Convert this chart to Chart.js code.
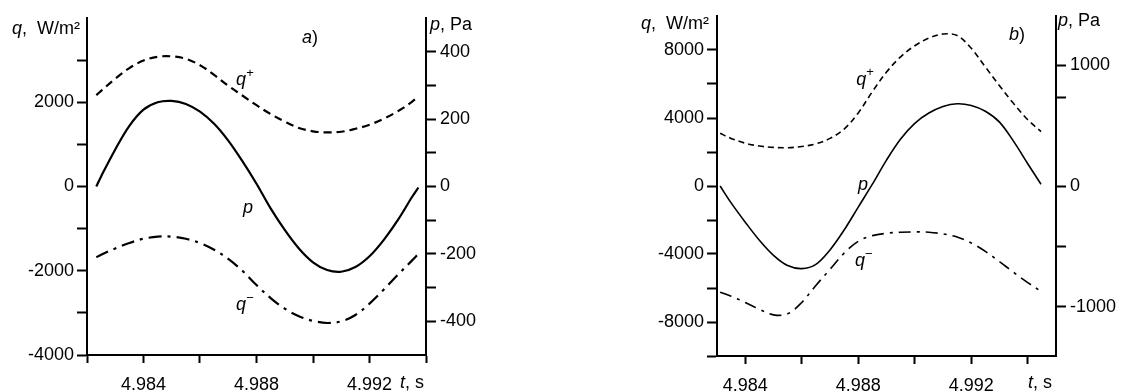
<!DOCTYPE html>
<html>
<head>
<meta charset="utf-8">
<script src="https://cdn.jsdelivr.net/npm/chart.js@4.4.1/dist/chart.umd.min.js"></script>
<style>
  html, body { margin: 0; padding: 0; background: #fff; }
  #wrap { position: relative; width: 1124px; height: 392px; overflow: hidden; }
  canvas { position: absolute; top: 0; }
  #chartA { left: 0; }
  #chartB { left: 560px; }
</style>
</head>
<body>
<div id="wrap">
  <canvas id="chartA" width="540" height="392"></canvas>
  <canvas id="chartB" width="564" height="392"></canvas>
</div>
<script>
// panel a) time, s
const tA = [4.98233, 4.9825, 4.9830, 4.9835, 4.9840, 4.9845, 4.9850, 4.9855, 4.9860, 4.9865, 4.9870, 4.9875, 4.9880,
	4.9885, 4.9890, 4.9895, 4.9900, 4.9905, 4.9910, 4.9915, 4.9920, 4.9925, 4.9930, 4.9935, 4.99373];
// p, Pa (right axis)
const pA = [0, 30, 110, 180, 228, 250, 254, 245, 222, 186, 136, 75, 8,
	-65, -129, -184, -225, -248, -253, -239, -207, -159, -100, -32, -3];
// q+, W/m2 (left axis)
const qPlusA = [2170, 2270, 2560, 2810, 2990, 3080, 3090, 3030, 2880, 2650, 2390, 2160, 1930,
	1720, 1540, 1390, 1310, 1285, 1300, 1370, 1465, 1610, 1785, 2010, 2140];
// q-, W/m2 (left axis)
const qMinusA = [-1680, -1620, -1470, -1340, -1240, -1190, -1190, -1240, -1340, -1500, -1720, -2000, -2340,
	-2650, -2900, -3080, -3190, -3240, -3200, -3050, -2780, -2450, -2100, -1760, -1600];

// panel b)
const tB = [4.98311, 4.9835, 4.9840, 4.9845, 4.9850, 4.9855, 4.9860, 4.9865, 4.9870, 4.9875, 4.9880, 4.9885,
	4.9890, 4.9895, 4.9900, 4.9905, 4.9910, 4.9915, 4.9920, 4.9925, 4.9930, 4.9935, 4.9940, 4.99447];
const pB = [0, -140, -300, -450, -575, -660, -685, -650, -530, -365, -175, 15,
	215, 390, 520, 605, 660, 682, 668, 620, 530, 370, 185, 15];
const qPlusB = [3100, 2800, 2520, 2350, 2270, 2250, 2320, 2480, 2800, 3350, 4300, 5550,
	6700, 7600, 8250, 8700, 8940, 8850, 8100, 7000, 5900, 4850, 3900, 3200];
const qMinusB = [-6250, -6480, -6850, -7250, -7580, -7520, -6850, -5850, -4900, -3950, -3250, -2920,
	-2780, -2720, -2700, -2720, -2820, -3000, -3350, -3850, -4450, -5080, -5680, -6200];

// axis ticks and the ticks that carry a label
const xTicksA = [4.982, 4.984, 4.986, 4.988, 4.990, 4.992, 4.994];
const xTicksB = [4.984, 4.986, 4.988, 4.990, 4.992, 4.994];
const xLabels = [4.984, 4.988, 4.992];
const qTicksA = [-4000, -3000, -2000, -1000, 0, 1000, 2000, 3000];
const qLabelsA = [-4000, -2000, 0, 2000];
const pTicksA = [-400, -300, -200, -100, 0, 100, 200, 300, 400];
const pLabelsA = [-400, -200, 0, 200, 400];
const qTicksB = [-10000, -8000, -6000, -4000, -2000, 0, 2000, 4000, 6000, 8000];
const qLabelsB = [-8000, -4000, 0, 4000, 8000];
const pTicksB = [-1000, -500, 0, 730, 1000];
const pLabelsB = [-1000, 0, 1000];

const FONT = '"Liberation Sans", Arial, sans-serif';
Chart.defaults.font.family = FONT;
Chart.defaults.font.size = 18;
Chart.defaults.color = '#000';

function pts(ts, vs) {
	return ts.map((t, i) => ({ x: t, y: vs[i] }));
}

function fontOf(p) {
	return (p.it ? 'italic ' : '') + (p.sup ? 13 : 18) + 'px ' + FONT;
}

function drawParts(ctx, parts, x, y, align) {
	let w = 0;
	parts.forEach(p => { ctx.font = fontOf(p); w += ctx.measureText(p.t).width; });
	let cx = x;
	if (align == 'center') cx = x - w / 2;
	if (align == 'right') cx = x - w;
	parts.forEach(p => {
		ctx.font = fontOf(p);
		ctx.fillText(p.t, cx, p.sup ? y - 7 : y);
		cx += ctx.measureText(p.t).width;
	});
}

// text labels: either canvas pixels (px, py) or data coordinates (t, v on an axis)
const textPlugin = {
	id: 'texts',
	afterDraw(chart, args, opts) {
		const ctx = chart.ctx;
		ctx.save();
		ctx.fillStyle = '#000';
		ctx.textBaseline = 'middle';
		(opts.items || []).forEach(it => {
			let x = it.px, y = it.py;
			if (it.t !== undefined) {
				x = chart.scales.x.getPixelForValue(it.t);
				y = chart.scales[it.axis].getPixelForValue(it.v);
			}
			drawParts(ctx, it.parts, x, y, it.align || 'left');
		});
		ctx.restore();
	}
};

function axisGrid(len) {
	return {
		drawOnChartArea: false,
		drawTicks: true,
		tickLength: len,
		tickWidth: 2,
		tickColor: '#000',
		color: '#000'
	};
}
const axisBorder = { display: true, color: '#000', width: 2 };

function fixedTicks(values) {
	return axis => { axis.ticks = values.map(v => ({ value: v })); };
}

function labelIn(list, fmt) {
	return v => (list.some(l => Math.abs(l - v) < 1e-7) ? fmt(v) : '');
}

function makeChart(id, cfg) {
	const lw = cfg.lineWidth;
	return new Chart(document.getElementById(id), {
		type: 'line',
		data: {
			datasets: [
				{ data: pts(cfg.t, cfg.qPlus), yAxisID: 'y', borderColor: '#000', borderWidth: lw, borderDash: cfg.dash, pointRadius: 0, tension: 0.35 },
				{ data: pts(cfg.t, cfg.p), yAxisID: 'y2', borderColor: '#000', borderWidth: lw, pointRadius: 0, tension: 0.35 },
				{ data: pts(cfg.t, cfg.qMinus), yAxisID: 'y', borderColor: '#000', borderWidth: lw, borderDash: cfg.dashDot, pointRadius: 0, tension: 0.35 }
			]
		},
		options: {
			responsive: false,
			animation: false,
			layout: { padding: { top: cfg.top, left: 0, right: 0, bottom: 0 } },
			plugins: {
				legend: { display: false },
				tooltip: { enabled: false },
				texts: { items: cfg.texts }
			},
			scales: {
				x: {
					type: 'linear',
					min: cfg.xMin,
					max: cfg.xMax,
					afterBuildTicks: fixedTicks(cfg.xTicks),
					afterFit: s => { s.height = cfg.xHeight; },
					grid: axisGrid(8),
					border: axisBorder,
					ticks: { maxRotation: 0, autoSkip: false, padding: 11, callback: labelIn(xLabels, v => v.toFixed(3)) }
				},
				y: {
					position: 'left',
					min: cfg.qMin,
					max: cfg.qMax,
					afterBuildTicks: fixedTicks(cfg.qTicks),
					afterFit: s => { s.width = cfg.leftW; },
					grid: axisGrid(10),
					border: axisBorder,
					ticks: { autoSkip: false, padding: 3, callback: labelIn(cfg.qLabels, v => String(v)) }
				},
				y2: {
					position: 'right',
					min: cfg.pMin,
					max: cfg.pMax,
					afterBuildTicks: fixedTicks(cfg.pTicks),
					afterFit: s => { s.width = cfg.rightW; },
					grid: axisGrid(10),
					border: axisBorder,
					ticks: { autoSkip: false, padding: 4, callback: labelIn(cfg.pLabels, v => String(v)) }
				}
			}
		},
		plugins: [textPlugin]
	});
}

makeChart('chartA', {
	t: tA, p: pA, qPlus: qPlusA, qMinus: qMinusA,
	lineWidth: 2.2, dash: [8, 5], dashDot: [13, 6, 3, 6],
	top: 18, xHeight: 37, leftW: 87, rightW: 114,
	xMin: 4.982, xMax: 4.994, xTicks: xTicksA,
	qMin: -4000, qMax: 4000, qTicks: qTicksA, qLabels: qLabelsA,
	pMin: -500, pMax: 500, pTicks: pTicksA, pLabels: pLabelsA,
	texts: [
		{ px: 12, py: 29, parts: [{ t: 'q', it: true }, { t: ',  W/m²' }] },
		{ px: 430, py: 25, parts: [{ t: 'p', it: true }, { t: ', Pa' }] },
		{ px: 310, py: 38, align: 'center', parts: [{ t: 'a', it: true }, { t: ')' }] },
		{ px: 412, py: 383, align: 'center', parts: [{ t: 't', it: true }, { t: ', s' }] },
		{ t: 4.98759, v: 2530, axis: 'y', align: 'center', parts: [{ t: 'q', it: true }, { t: '+', sup: true }] },
		{ t: 4.98770, v: -511, axis: 'y', align: 'center', parts: [{ t: 'p', it: true }] },
		{ t: 4.98759, v: -2815, axis: 'y', align: 'center', parts: [{ t: 'q', it: true }, { t: '−', sup: true }] }
	]
});

makeChart('chartB', {
	t: tB, p: pB, qPlus: qPlusB, qMinus: qMinusB,
	lineWidth: 1.6, dash: [6, 4], dashDot: [12, 6, 3, 6],
	top: 16, xHeight: 36, leftW: 157, rightW: 68,
	xMin: 4.983, xMax: 4.995, xTicks: xTicksB,
	qMin: -10000, qMax: 10000, qTicks: qTicksB, qLabels: qLabelsB,
	pMin: -1410, pMax: 1410, pTicks: pTicksB, pLabels: pLabelsB,
	texts: [
		{ px: 81, py: 24, parts: [{ t: 'q', it: true }, { t: ',  W/m²' }] },
		{ px: 498, py: 21, parts: [{ t: 'p', it: true }, { t: ', Pa' }] },
		{ px: 457, py: 35, align: 'center', parts: [{ t: 'b', it: true }, { t: ')' }] },
		{ px: 480, py: 383, align: 'center', parts: [{ t: 't', it: true }, { t: ', s' }] },
		{ t: 4.98824, v: 6246, axis: 'y', align: 'center', parts: [{ t: 'q', it: true }, { t: '+', sup: true }] },
		{ t: 4.98817, v: 88, axis: 'y', align: 'center', parts: [{ t: 'p', it: true }] },
		{ t: 4.98820, v: -4428, axis: 'y', align: 'center', parts: [{ t: 'q', it: true }, { t: '−', sup: true }] }
	]
});
</script>
</body>
</html>
